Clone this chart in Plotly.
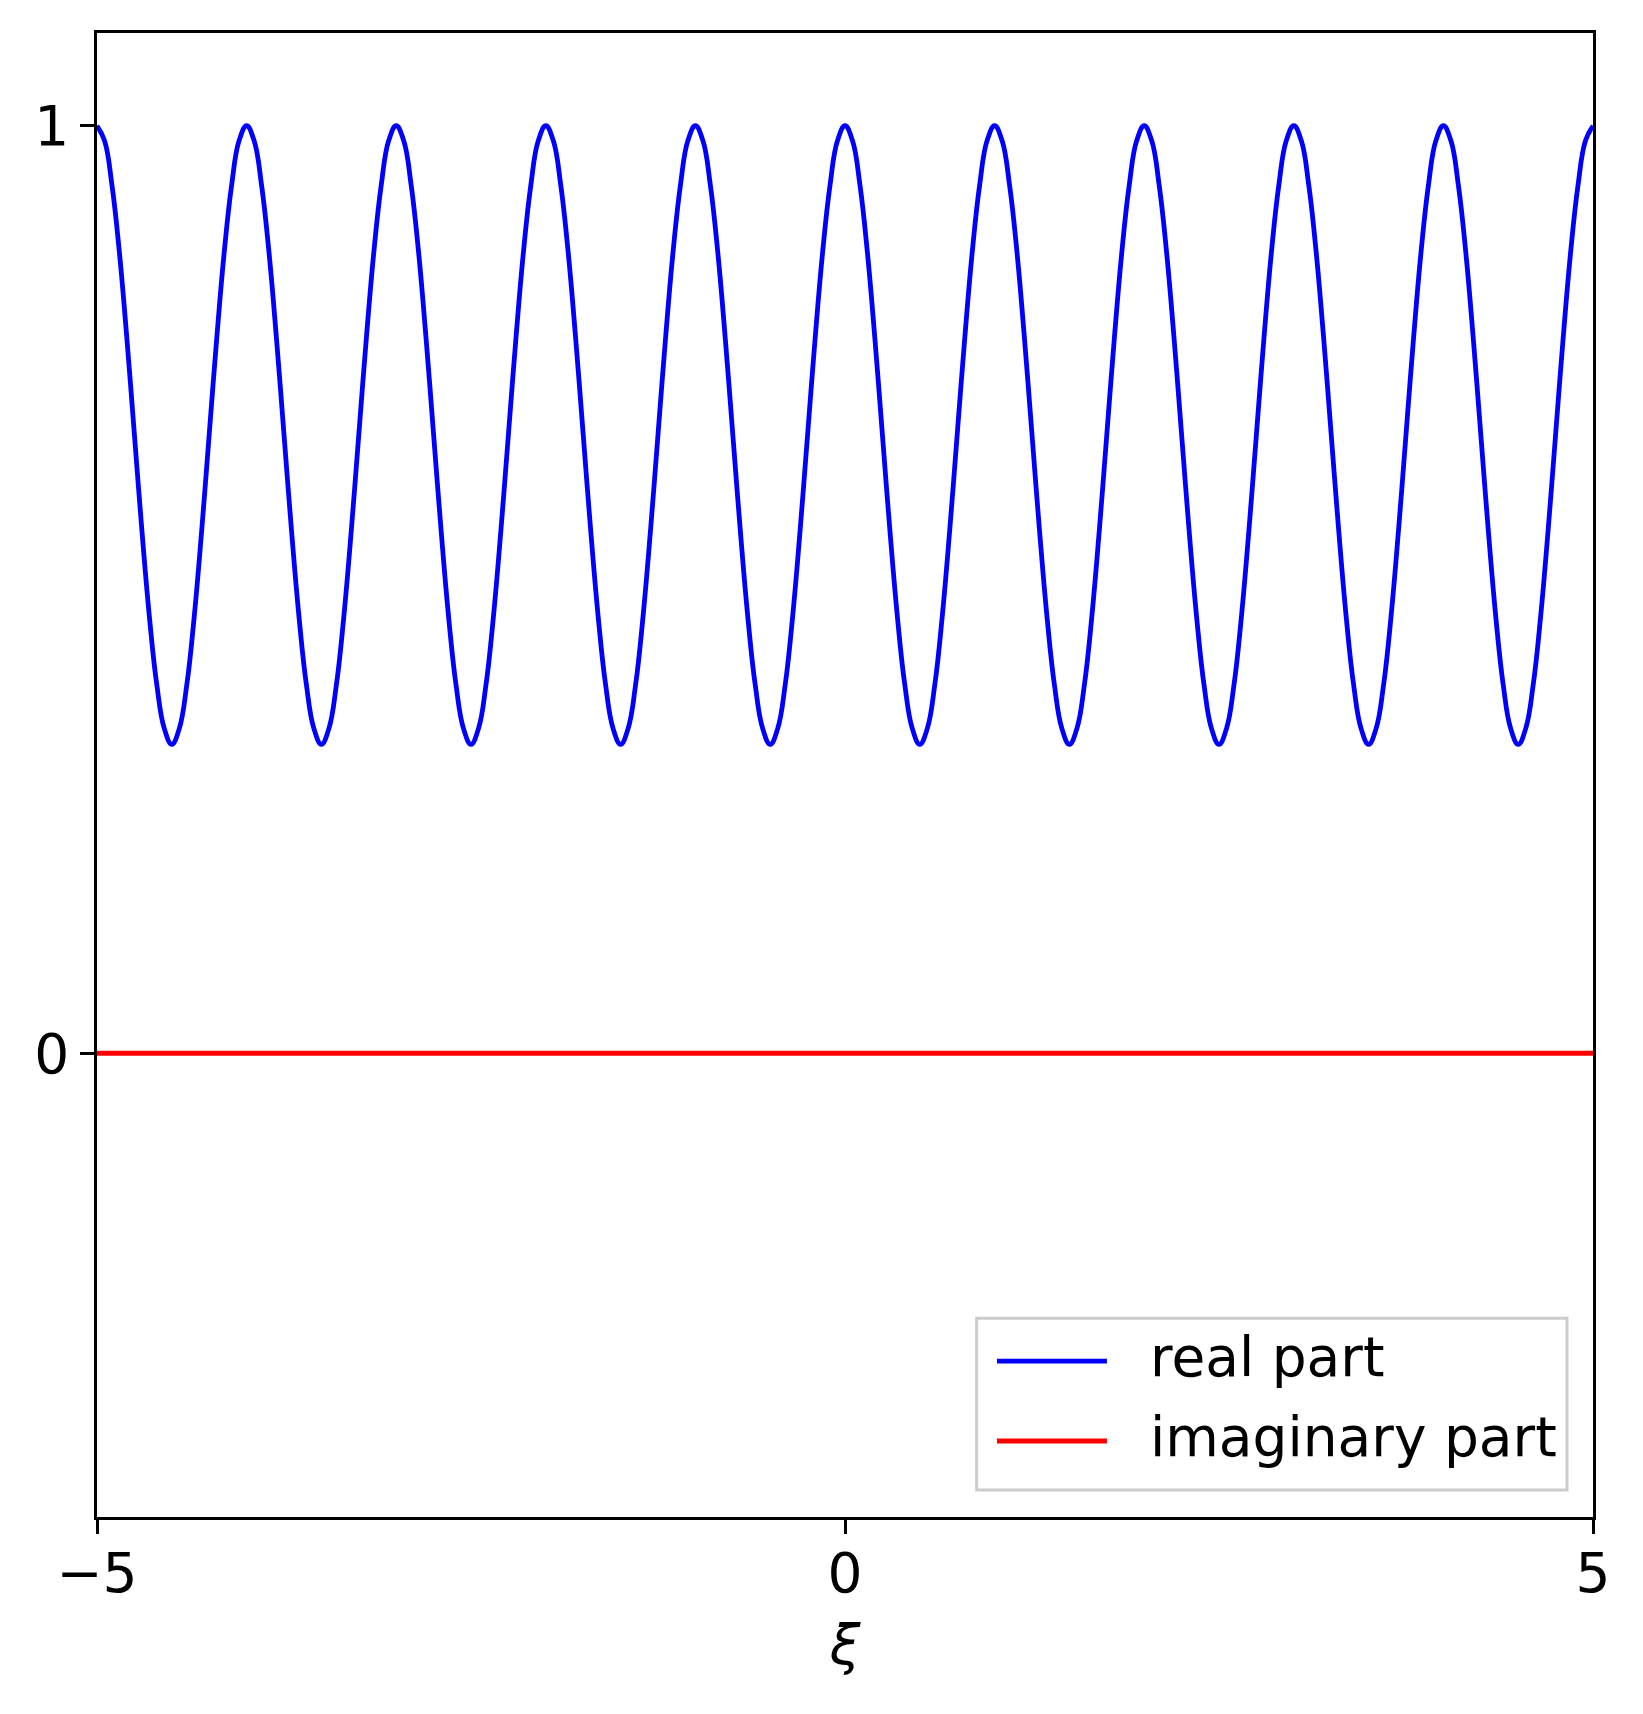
import plotly.graph_objects as go

xi = [round(-5 + 0.05 * i, 2) for i in range(201)]
real_part = [
    1.000, 0.984, 0.936, 0.863, 0.770, 0.667, 0.564, 0.471, 0.397, 0.350, 0.333, 0.350, 0.397, 0.471, 0.564, 0.667, 0.770, 0.863, 0.936, 0.984,
    1.000, 0.984, 0.936, 0.863, 0.770, 0.667, 0.564, 0.471, 0.397, 0.350, 0.333, 0.350, 0.397, 0.471, 0.564, 0.667, 0.770, 0.863, 0.936, 0.984,
    1.000, 0.984, 0.936, 0.863, 0.770, 0.667, 0.564, 0.471, 0.397, 0.350, 0.333, 0.350, 0.397, 0.471, 0.564, 0.667, 0.770, 0.863, 0.936, 0.984,
    1.000, 0.984, 0.936, 0.863, 0.770, 0.667, 0.564, 0.471, 0.397, 0.350, 0.333, 0.350, 0.397, 0.471, 0.564, 0.667, 0.770, 0.863, 0.936, 0.984,
    1.000, 0.984, 0.936, 0.863, 0.770, 0.667, 0.564, 0.471, 0.397, 0.350, 0.333, 0.350, 0.397, 0.471, 0.564, 0.667, 0.770, 0.863, 0.936, 0.984,
    1.000, 0.984, 0.936, 0.863, 0.770, 0.667, 0.564, 0.471, 0.397, 0.350, 0.333, 0.350, 0.397, 0.471, 0.564, 0.667, 0.770, 0.863, 0.936, 0.984,
    1.000, 0.984, 0.936, 0.863, 0.770, 0.667, 0.564, 0.471, 0.397, 0.350, 0.333, 0.350, 0.397, 0.471, 0.564, 0.667, 0.770, 0.863, 0.936, 0.984,
    1.000, 0.984, 0.936, 0.863, 0.770, 0.667, 0.564, 0.471, 0.397, 0.350, 0.333, 0.350, 0.397, 0.471, 0.564, 0.667, 0.770, 0.863, 0.936, 0.984,
    1.000, 0.984, 0.936, 0.863, 0.770, 0.667, 0.564, 0.471, 0.397, 0.350, 0.333, 0.350, 0.397, 0.471, 0.564, 0.667, 0.770, 0.863, 0.936, 0.984,
    1.000, 0.984, 0.936, 0.863, 0.770, 0.667, 0.564, 0.471, 0.397, 0.350, 0.333, 0.350, 0.397, 0.471, 0.564, 0.667, 0.770, 0.863, 0.936, 0.984,
    1.000,
]
imag_x = [-5, 5]
imag_part = [0, 0]

series_names = ["real part", "imaginary part"]
x_ticks = [-5, 0, 5]
x_ticklabels = ["\u22125", "0", "5"]
y_ticks = [0, 1]
y_ticklabels = ["0", "1"]

FONT = "DejaVu Sans"
FS = 55

fig = go.Figure()
fig.add_trace(go.Scatter(x=xi, y=real_part, mode="lines", name=series_names[0],
                         line=dict(color="#0000ff", width=4.8, shape="spline", smoothing=1.2)))
fig.add_trace(go.Scatter(x=imag_x, y=imag_part, mode="lines", name=series_names[1],
                         line=dict(color="#ff0000", width=4.8)))

axis_common = dict(showgrid=False, zeroline=False, showline=True, linecolor="black",
                   linewidth=2.5, mirror=True, ticks="outside", ticklen=14, tickwidth=2.5,
                   tickcolor="black", tickfont=dict(family=FONT, size=FS, color="black"))

# the page body adds an 8px offset, so margins are shifted to compensate
fig.update_layout(
    width=1643, height=1714,
    margin=dict(l=89, r=58, t=25, b=205),
    paper_bgcolor="white", plot_bgcolor="white",
    showlegend=False,
    xaxis=dict(range=[-5, 5], tickvals=x_ticks, ticktext=x_ticklabels, ticklabelstandoff=-8,
               title=dict(text="<i>\u03be</i>", font=dict(family=FONT, size=FS, color="black"), standoff=22),
               **axis_common),
    yaxis=dict(range=[-0.5, 1.1], tickvals=y_ticks, ticktext=y_ticklabels, **axis_common),
)

# legend drawn by hand so the line samples match the long matplotlib handles
fig.add_shape(type="rect", xref="paper", yref="paper", x0=0.588, x1=0.9826, y0=0.0182, y1=0.134,
              line=dict(color="#cccccc", width=3), fillcolor="rgba(255,255,255,0.8)", layer="above")
legend_rows = [(0.1051, "#0000ff", series_names[0]), (0.0512, "#ff0000", series_names[1])]
for y, color, label in legend_rows:
    fig.add_shape(type="line", xref="paper", yref="paper", x0=0.6016, x1=0.6751, y0=y, y1=y,
                  line=dict(color=color, width=4.8), layer="above")
    fig.add_annotation(xref="paper", yref="paper", x=0.7025, y=y + 0.003, text=label,
                       showarrow=False, xanchor="left", yanchor="middle",
                       font=dict(family=FONT, size=FS, color="black"))

fig.write_html("out.html")
